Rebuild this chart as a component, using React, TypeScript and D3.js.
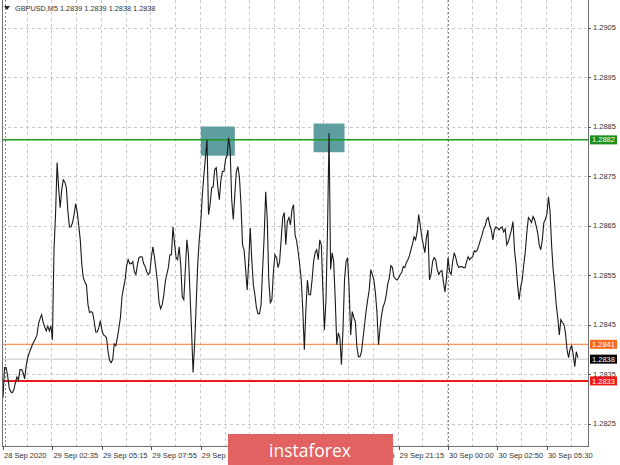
import React from 'react';
import * as d3 from 'd3';

// M5 close prices, one per bar (bar index = position)
const closes: number[] = [
  1.28302, 1.28363, 1.28363, 1.28346, 1.28322, 1.28314, 1.28312, 1.28318, 1.28332, 1.28344,
  1.28338, 1.28359, 1.28359, 1.28353, 1.28340, 1.28367, 1.28383, 1.28393, 1.28401, 1.28409,
  1.28415, 1.28421, 1.28429, 1.28452, 1.28462, 1.28470, 1.28454, 1.28445, 1.28437, 1.28447,
  1.28437, 1.28447, 1.28419, 1.28601, 1.28672, 1.28777, 1.28726, 1.28686, 1.28722, 1.28742,
  1.28738, 1.28726, 1.28678, 1.28647, 1.28647, 1.28656, 1.28672, 1.28694, 1.28678, 1.28651,
  1.28621, 1.28571, 1.28544, 1.28536, 1.28530, 1.28490, 1.28474, 1.28476, 1.28474, 1.28456,
  1.28435, 1.28435, 1.28443, 1.28458, 1.28439, 1.28429, 1.28427, 1.28423, 1.28395, 1.28377,
  1.28373, 1.28379, 1.28411, 1.28407, 1.28423, 1.28443, 1.28464, 1.28506, 1.28524, 1.28540,
  1.28569, 1.28581, 1.28573, 1.28573, 1.28577, 1.28557, 1.28551, 1.28571, 1.28585, 1.28587,
  1.28587, 1.28573, 1.28567, 1.28557, 1.28551, 1.28555, 1.28585, 1.28607, 1.28587, 1.28561,
  1.28534, 1.28494, 1.28482, 1.28490, 1.28508, 1.28536, 1.28551, 1.28565, 1.28591, 1.28591,
  1.28647, 1.28615, 1.28585, 1.28581, 1.28607, 1.28571, 1.28506, 1.28500, 1.28561, 1.28621,
  1.28591, 1.28514, 1.28439, 1.28353, 1.28409, 1.28490, 1.28571, 1.28621, 1.28658, 1.28712,
  1.28752, 1.28787, 1.28823, 1.28672, 1.28692, 1.28726, 1.28728, 1.28763, 1.28767, 1.28728,
  1.28702, 1.28742, 1.28759, 1.28759, 1.28783, 1.28791, 1.28827, 1.28803, 1.28702, 1.28662,
  1.28712, 1.28759, 1.28769, 1.28748, 1.28692, 1.28611, 1.28601, 1.28561, 1.28520, 1.28577,
  1.28645, 1.28581, 1.28530, 1.28510, 1.28484, 1.28472, 1.28472, 1.28490, 1.28561, 1.28627,
  1.28718, 1.28662, 1.28540, 1.28494, 1.28500, 1.28557, 1.28591, 1.28585, 1.28565, 1.28577,
  1.28621, 1.28666, 1.28676, 1.28611, 1.28658, 1.28666, 1.28651, 1.28682, 1.28692, 1.28631,
  1.28619, 1.28597, 1.28571, 1.28540, 1.28480, 1.28399, 1.28480, 1.28540, 1.28510, 1.28510,
  1.28540, 1.28577, 1.28595, 1.28601, 1.28581, 1.28621, 1.28611, 1.28520, 1.28439, 1.28500,
  1.28641, 1.28837, 1.28561, 1.28595, 1.28577, 1.28500, 1.28409, 1.28433, 1.28423, 1.28369,
  1.28439, 1.28540, 1.28577, 1.28585, 1.28520, 1.28429, 1.28476, 1.28464, 1.28456, 1.28405,
  1.28385, 1.28385, 1.28395, 1.28423, 1.28450, 1.28478, 1.28500, 1.28520, 1.28561, 1.28551,
  1.28540, 1.28514, 1.28474, 1.28409, 1.28443, 1.28470, 1.28486, 1.28494, 1.28510, 1.28532,
  1.28544, 1.28569, 1.28565, 1.28546, 1.28542, 1.28540, 1.28544, 1.28551, 1.28555, 1.28567,
  1.28565, 1.28575, 1.28581, 1.28589, 1.28601, 1.28613, 1.28627, 1.28621, 1.28637, 1.28672,
  1.28651, 1.28627, 1.28611, 1.28595, 1.28625, 1.28641, 1.28540, 1.28551, 1.28577, 1.28585,
  1.28581, 1.28561, 1.28551, 1.28557, 1.28559, 1.28536, 1.28516, 1.28544, 1.28585, 1.28557,
  1.28551, 1.28577, 1.28595, 1.28585, 1.28571, 1.28565, 1.28567, 1.28567, 1.28565, 1.28565,
  1.28577, 1.28587, 1.28581, 1.28585, 1.28587, 1.28599, 1.28597, 1.28601, 1.28611, 1.28621,
  1.28631, 1.28643, 1.28649, 1.28662, 1.28666, 1.28651, 1.28641, 1.28621, 1.28641, 1.28647,
  1.28645, 1.28641, 1.28645, 1.28647, 1.28637, 1.28643, 1.28611, 1.28617, 1.28629, 1.28641,
  1.28658, 1.28601, 1.28571, 1.28530, 1.28500, 1.28526, 1.28540, 1.28571, 1.28597, 1.28637,
  1.28666, 1.28662, 1.28656, 1.28668, 1.28662, 1.28649, 1.28635, 1.28611, 1.28601, 1.28621,
  1.28656, 1.28662, 1.28674, 1.28708, 1.28678, 1.28611, 1.28561, 1.28530, 1.28490, 1.28464,
  1.28429, 1.28460, 1.28454, 1.28450, 1.28433, 1.28399, 1.28383, 1.28401, 1.28407, 1.28389,
  1.28365, 1.28395, 1.28383,
];

const priceTicks = [1.2825, 1.2835, 1.2845, 1.2855, 1.2865, 1.2875, 1.2885, 1.2895, 1.2905];
const timeLabels = [
  '28 Sep 2020', '29 Sep 02:35', '29 Sep 05:15', '29 Sep 07:55', '29 Sep 10:35', '29 Sep 13:15',
  '29 Sep 15:55', '29 Sep 18:35', '29 Sep 21:15', '30 Sep 00:00', '30 Sep 02:50', '30 Sep 05:30',
];
const labelBars = [0, 32, 64, 96, 128, 160, 192, 224, 256, 288, 320, 352];
const gridBars = d3.range(16, 369, 16);
const separatorBars = [1, 288];

const levelValues = [1.28823, 1.2841, 1.2838, 1.28336];
const levelLabels = ['1.2882', '1.2841', '1.2838', '1.2833'];

const zoneBarsFrom = [128, 201];
const zoneBarsTo = [150, 221];
const zoneLow = [1.28791, 1.28798];
const zoneHigh = [1.2885, 1.28856];

const symbol = 'GBPUSD,M5';
const ohlc = ['1.2839', '1.2839', '1.2838', '1.2838'];
const brand = 'instaforex';

const W = 620;
const H = 465;
const LEFT = 2;
const RIGHT = 588;
const BOTTOM = 446;
const FONT = '"Liberation Sans", Arial, sans-serif';
const BANNER = { x: 228, y: 434, w: 165, h: 31 };

const levelStyle = [
  { line: '#1f9a1f', box: '#1b8f1b', text: '#ffffff', width: 1.5 },
  { line: '#ff7a2e', box: '#f46a1f', text: '#ffffff', width: 1 },
  { line: '#c4c4c4', box: '#000000', text: '#ffffff', width: 1 },
  { line: '#f01818', box: '#f01818', text: '#ffffff', width: 2 },
];

export default function App() {
  const x = d3.scaleLinear().domain([0, 372]).range([3, 3 + 372 * 1.5453]);
  const y = d3.scaleLinear().domain([1.2825, 1.2905]).range([423.5, 27.5]);
  const line = d3
    .line<number>()
    .x((_, i) => x(i))
    .y((d) => y(d));

  // labels entirely hidden behind the banner in the original are not drawn
  const visibleLabel = (b: number) => {
    const lx = x(b) + 1;
    return !(lx > BANNER.x && lx + 44 < BANNER.x + BANNER.w);
  };

  return (
    <svg
      width={W}
      height={H}
      style={{ position: 'absolute', left: 0, top: 0, background: '#ffffff' }}
      fontFamily={FONT}
    >
      <rect x={0} y={0} width={W} height={H} fill="#ffffff" />
      <defs>
        <clipPath id="plot">
          <rect x={LEFT} y={0} width={RIGHT - LEFT} height={BOTTOM} />
        </clipPath>
      </defs>

      {/* grid */}
      {priceTicks.map((t) => (
        <line
          key={'hg' + t}
          x1={LEFT}
          x2={RIGHT}
          y1={Math.round(y(t)) + 0.5}
          y2={Math.round(y(t)) + 0.5}
          stroke="#c8c8c8"
          strokeDasharray="3,3"
        />
      ))}
      {gridBars.map((b) => (
        <line
          key={'vg' + b}
          x1={Math.round(x(b)) - 0.5}
          x2={Math.round(x(b)) - 0.5}
          y1={0}
          y2={BOTTOM}
          stroke="#c8c8c8"
          strokeDasharray="3,3"
        />
      ))}
      {separatorBars.map((b) => (
        <line
          key={'sep' + b}
          x1={Math.round(x(b)) + 0.5}
          x2={Math.round(x(b)) + 0.5}
          y1={0}
          y2={BOTTOM}
          stroke="#8a8a8a"
          strokeDasharray="2,2"
        />
      ))}

      {/* zones */}
      {zoneBarsFrom.map((b, i) => (
        <rect
          key={'z' + i}
          x={x(b)}
          y={y(zoneHigh[i])}
          width={x(zoneBarsTo[i]) - x(b)}
          height={y(zoneLow[i]) - y(zoneHigh[i])}
          fill="#5f9ea0"
        />
      ))}

      {/* level lines */}
      {levelValues.map((v, i) => (
        <line
          key={'lv' + i}
          x1={LEFT}
          x2={RIGHT}
          y1={y(v)}
          y2={y(v)}
          stroke={levelStyle[i].line}
          strokeWidth={levelStyle[i].width}
        />
      ))}

      {/* price line */}
      <path d={line(closes) || ''} fill="none" stroke="#1a1a1a" strokeWidth={1.1} clipPath="url(#plot)" />

      {/* frame */}
      <line x1={LEFT + 0.5} x2={LEFT + 0.5} y1={0} y2={BOTTOM} stroke="#707070" />
      <line x1={RIGHT + 0.5} x2={RIGHT + 0.5} y1={0} y2={BOTTOM + 0.5} stroke="#707070" />
      <line x1={LEFT} x2={RIGHT + 1} y1={BOTTOM + 0.5} y2={BOTTOM + 0.5} stroke="#707070" />

      {/* price axis */}
      {priceTicks.map((t) => (
        <g key={'pt' + t}>
          <line x1={RIGHT} x2={RIGHT + 3} y1={Math.round(y(t)) + 0.5} y2={Math.round(y(t)) + 0.5} stroke="#555" />
          <text x={593} y={y(t)} dy="0.35em" fontSize={7.5} fill="#333">
            {t.toFixed(4)}
          </text>
        </g>
      ))}
      {levelValues.map((v, i) => (
        <g key={'lb' + i}>
          <rect x={590} y={y(v) - 4.5} width={27} height={9} fill={levelStyle[i].box} />
          <text x={592} y={y(v)} dy="0.35em" fontSize={7.5} fill={levelStyle[i].text}>
            {levelLabels[i]}
          </text>
        </g>
      ))}

      {/* time axis */}
      {labelBars.map((b, i) => (
        <g key={'tl' + b}>
          <line x1={Math.round(x(b)) + 0.5} x2={Math.round(x(b)) + 0.5} y1={BOTTOM} y2={BOTTOM + 4} stroke="#555" />
          {visibleLabel(b) && (
            <text x={x(b) + 1} y={458} fontSize={7.5} fill="#333">
              {timeLabels[i]}
            </text>
          )}
        </g>
      ))}

      {/* title */}
      <path d="M4,6 L10,6 L7,10 Z" fill="#222" />
      <text x={15} y={11} fontSize={7.3} fill="#333">
        {symbol + '  ' + ohlc.join(' ')}
      </text>

      {/* brand banner */}
      <rect x={BANNER.x} y={BANNER.y} width={BANNER.w} height={BANNER.h} fill="#e26161" />
      <text x={310} y={457} textAnchor="middle" fontSize={17.5} fill="#ffffff" fontFamily='"Open Sans", sans-serif'>
        {brand}
      </text>
    </svg>
  );
}
